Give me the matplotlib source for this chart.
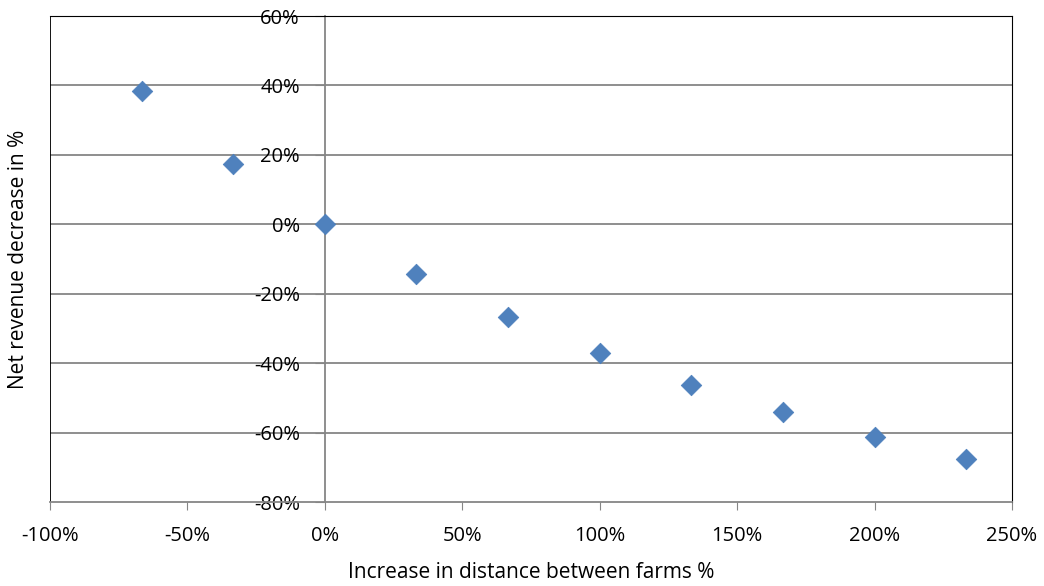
import numpy as np
import matplotlib.pyplot as plt
from matplotlib.ticker import PercentFormatter

# increase in distance between farms (%)
dist_increase = [-66.7, -33.3, 0, 33.3, 66.7, 100, 133.3, 166.7, 200, 233.3]
# net revenue decrease (%)
rev_decrease = [38.4, 17.4, 0, -14.3, -26.7, -37.1, -46.3, -54.1, -61.3, -67.6]

x_ticks = [-100, -50, 0, 50, 100, 150, 200, 250]
y_ticks = [-80, -60, -40, -20, 0, 20, 40, 60]

plt.rcParams['font.family'] = ['Open Sans', 'DejaVu Sans']
plt.rcParams['axes.unicode_minus'] = False

fig = plt.figure(figsize=(10.44, 5.86), dpi=100)
ax = fig.add_axes([50/1044, 1-502/586, 962/1044, 486/586])

ax.scatter(dist_increase, rev_decrease, marker='D', s=110, color='#4F81BD',
           edgecolor='#4A7EBB', linewidth=0.5, zorder=5)

ax.set_xlim(-100, 250)
ax.set_ylim(-80, 60)
ax.set_xticks(x_ticks)
ax.set_yticks(y_ticks)
ax.xaxis.set_major_formatter(PercentFormatter(decimals=0))
ax.yaxis.set_major_formatter(PercentFormatter(decimals=0))

# gridlines
for yv in y_ticks[1:-1]:
    ax.axhline(yv, color='#868686', lw=1.3, zorder=1)

# y axis crosses at x = 0
ax.spines['left'].set_position(('data', 0))
ax.spines['left'].set_color('#868686')
ax.spines['left'].set_linewidth(1.3)
ax.spines['bottom'].set_color('#868686')
ax.spines['bottom'].set_linewidth(1.3)
ax.spines['top'].set_color('black')
ax.spines['right'].set_color('black')
ax.axvline(-100, color='black', lw=1.3, zorder=2)

ax.tick_params(axis='x', length=6, color='#868686', labelsize=14.5, pad=11)
ax.tick_params(axis='y', length=7, color='#868686', labelsize=14.5, pad=11)

ax.set_xlabel('Increase in distance between farms %', fontsize=15, labelpad=12)
ax.set_ylabel('Net revenue decrease in %', fontsize=15)
ax.yaxis.set_label_coords(-0.022, 0.5)

fig.savefig('out.png', dpi=100)
